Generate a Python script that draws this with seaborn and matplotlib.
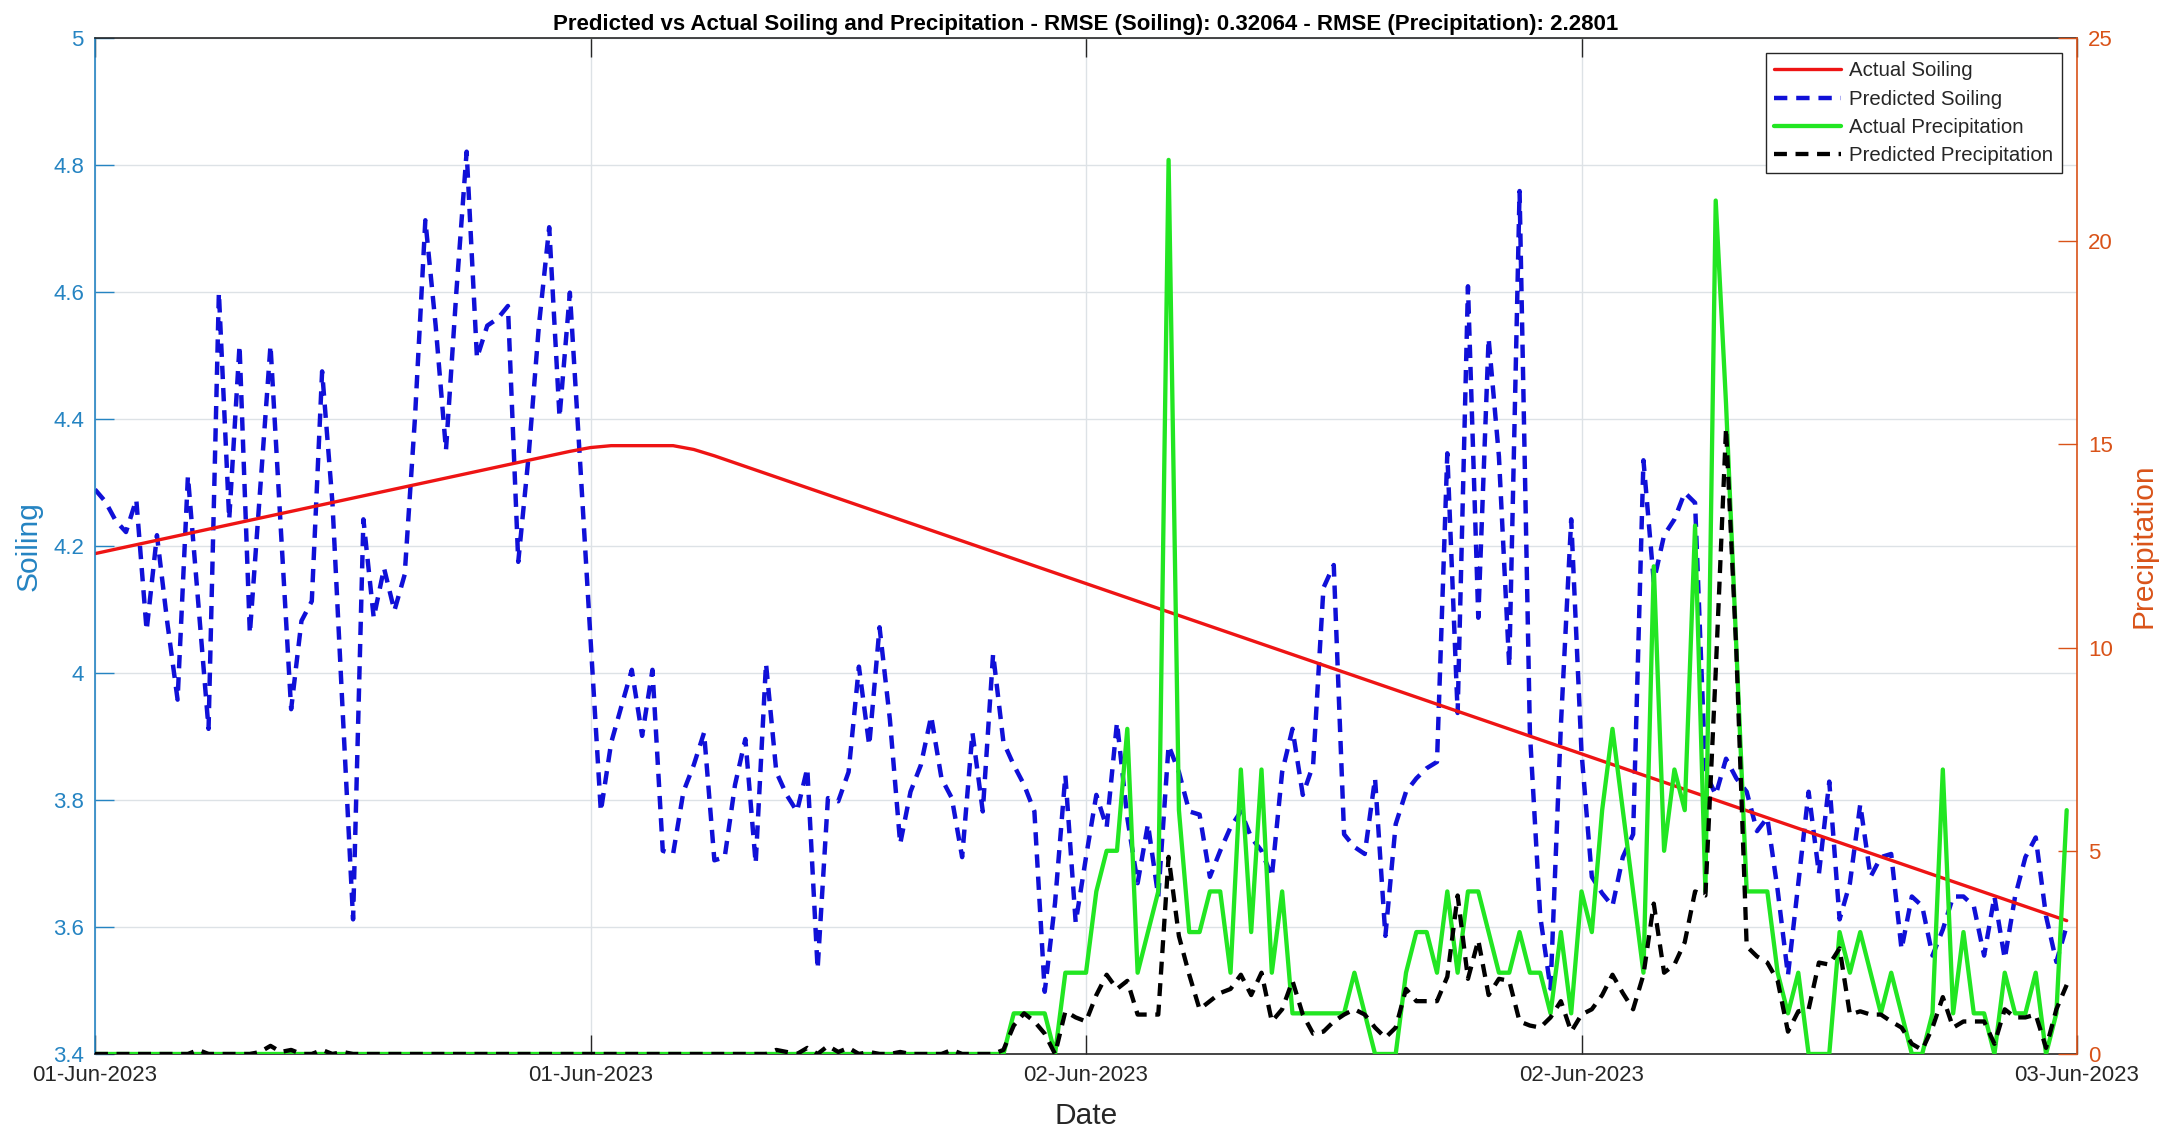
import numpy as np
import pandas as pd
import matplotlib
matplotlib.use("Agg")
import matplotlib.pyplot as plt
import matplotlib.dates as mdates
from matplotlib.ticker import FuncFormatter
import seaborn as sns

# ---- data: 15-minute samples from 01-Jun-2023 00:00 ----
start_time = "2023-06-01 00:00"
sample_step = "15min"

predicted_soiling = [
    4.289, 4.27, 4.24, 4.222, 4.273, 4.067, 4.217, 4.08, 3.958, 4.310,
    4.11, 3.912, 4.599, 4.242, 4.516, 4.062, 4.289, 4.516, 4.227, 3.943,
    4.082, 4.113, 4.475, 4.268, 3.937, 3.612, 4.242, 4.087, 4.165, 4.098,
    4.155, 4.403, 4.713, 4.547, 4.351, 4.599, 4.821, 4.496, 4.547, 4.558,
    4.578, 4.175, 4.341, 4.547, 4.702, 4.403, 4.599, 4.330, 4.054, 3.782,
    3.89, 3.948, 4.005, 3.901, 4.005, 3.720, 3.715, 3.813, 3.855, 3.906,
    3.705, 3.710, 3.824, 3.896, 3.700, 4.015, 3.844, 3.808, 3.782, 3.850,
    3.534, 3.803, 3.798, 3.844, 4.010, 3.886, 4.072, 3.927, 3.731, 3.813,
    3.855, 3.932, 3.834, 3.803, 3.710, 3.906, 3.782, 4.030, 3.891, 3.855,
    3.824, 3.782, 3.498, 3.638, 3.839, 3.607, 3.710, 3.808, 3.757, 3.922,
    3.772, 3.669, 3.762, 3.648, 3.886, 3.844, 3.782, 3.777, 3.679, 3.720,
    3.757, 3.782, 3.741, 3.720, 3.679, 3.844, 3.912, 3.808, 3.855, 4.134,
    4.170, 3.746, 3.726, 3.715, 3.834, 3.586, 3.762, 3.813, 3.834, 3.850,
    3.860, 4.346, 3.937, 4.609, 4.087, 4.527, 4.341, 4.010, 4.759, 3.906,
    3.617, 3.503, 3.917, 4.242, 3.875, 3.679, 3.653, 3.633, 3.710, 3.746,
    4.335, 4.144, 4.217, 4.242, 4.284, 4.268, 3.844, 3.808, 3.865, 3.834,
    3.813, 3.751, 3.772, 3.658, 3.524, 3.669, 3.813, 3.684, 3.829, 3.612,
    3.669, 3.793, 3.679, 3.710, 3.715, 3.565, 3.648, 3.633, 3.555, 3.596,
    3.648, 3.648, 3.633, 3.555, 3.648, 3.550, 3.648, 3.710, 3.741, 3.617,
    3.545, 3.602,
]

actual_precipitation = [0] * 89 + [
    1, 1, 1, 1, 0, 2, 2, 2, 4, 5, 5, 8, 2, 3, 4, 22, 6, 3, 3, 4,
    4, 2, 7, 3, 7, 2, 4, 1, 1, 1, 1, 1, 1, 2, 1, 0, 0, 0, 2, 3,
    3, 2, 4, 2, 4, 4, 3, 2, 2, 3, 2, 2, 1, 3, 1, 4, 3, 6, 8, 6,
    4, 2, 12, 5, 7, 6, 13, 4, 21, 16, 10, 4, 4, 4, 2, 1, 2, 0, 0, 0,
    3, 2, 3, 2, 1, 2, 1, 0, 0, 1, 7, 1, 3, 1, 1, 0, 2, 1, 1, 2,
    0, 1, 6,
]

predicted_precipitation = [
    0, 0, 0, 0, 0, 0, 0, 0, 0, 0, 0.1, 0, 0, 0, 0, 0, 0.05, 0.2, 0.05, 0.1,
    0, 0, 0.1, 0, 0.05, 0, 0, 0, 0, 0, 0, 0, 0, 0, 0, 0, 0, 0, 0, 0,
    0, 0, 0, 0, 0, 0, 0, 0, 0, 0, 0, 0, 0, 0, 0, 0, 0, 0, 0, 0,
    0, 0, 0, 0, 0, 0, 0.1, 0.05, 0, 0.15, 0, 0.2, 0.05, 0.15, 0, 0.05, 0, 0, 0.05, 0,
    0, 0, 0, 0.1, 0, 0, 0, 0, 0.1, 0.7, 1.0, 0.8, 0.5, 0.0, 1.05, 0.9, 0.8, 1.45, 1.95, 1.6,
    1.8, 0.97, 0.97, 0.97, 4.85, 2.9, 1.95, 1.1, 1.3, 1.5, 1.6, 1.95, 1.45, 2.0, 0.8, 1.1, 1.8, 0.97, 0.5, 0.55,
    0.8, 0.97, 1.1, 0.97, 0.65, 0.4, 0.65, 1.6, 1.3, 1.3, 1.3, 1.9, 3.9, 1.85, 2.8, 1.45, 1.85, 1.8, 0.8, 0.7,
    0.65, 0.9, 1.3, 0.55, 0.97, 1.1, 1.45, 1.95, 1.5, 1.1, 1.95, 3.7, 2.0, 2.2, 2.75, 4.0, 3.9, 9.4, 15.4, 9.9,
    2.65, 2.4, 2.25, 1.8, 0.55, 1.05, 1.1, 2.25, 2.2, 2.6, 0.97, 1.05, 0.97, 0.97, 0.8, 0.65, 0.25, 0.1, 0.65, 1.4,
    0.65, 0.8, 0.8, 0.8, 0.25, 1.1, 0.9, 0.9, 0.97, 0.15, 1.1, 1.7,
]

# measured soiling: break points of the piecewise trend (hours since start)
actual_soiling_hours = [0, 11.5, 12.0, 12.5, 14.0, 14.5, 15.0, 47.75]
actual_soiling = [4.188, 4.349, 4.355, 4.358, 4.358, 4.352, 4.342, 3.610]

left_ticks = [3.4, 3.6, 3.8, 4.0, 4.2, 4.4, 4.6, 4.8, 5.0]
right_ticks = [0, 5, 10, 15, 20, 25]

title_text = ("Predicted vs Actual Soiling and Precipitation - RMSE (Soiling): 0.32064"
              " - RMSE (Precipitation): 2.2801")

# ---- frames ----
times = pd.date_range(start_time, periods=len(predicted_soiling), freq=sample_step)
series = pd.DataFrame({
    "Date": times,
    "Predicted Soiling": predicted_soiling,
    "Actual Precipitation": actual_precipitation,
    "Predicted Precipitation": predicted_precipitation,
})
trend = pd.DataFrame({
    "Date": pd.Timestamp(start_time) + pd.to_timedelta(actual_soiling_hours, unit="h"),
    "Actual Soiling": actual_soiling,
})

# ---- style ----
sns.set_theme(style="white")
plt.rcParams["font.family"] = ["Liberation Sans", "DejaVu Sans"]

LEFT_C = "#2584c2"
RIGHT_C = "#d95319"
TEXT_C = "#262626"
RED = "#ee1414"
BLUE = "#1010d8"
GREEN = "#22e622"
DASH = (0, (3.0, 2.0))

fig = plt.figure(figsize=(21.83, 11.31), dpi=100)
fig.patch.set_facecolor("white")
ax = fig.add_axes([0.04352, 0.06809, 0.90793, 0.89832])
ax2 = ax.twinx()

# left axis: soiling
sns.lineplot(data=series, x="Date", y="Predicted Soiling", ax=ax, color=BLUE,
             linewidth=3.2, linestyle=DASH, legend=False)
h_pred_soil = ax.lines[-1]
sns.lineplot(data=trend, x="Date", y="Actual Soiling", ax=ax, color=RED,
             linewidth=2.4, legend=False)
h_act_soil = ax.lines[-1]

# right axis: precipitation
sns.lineplot(data=series, x="Date", y="Actual Precipitation", ax=ax2, color=GREEN,
             linewidth=3.1, legend=False)
h_act_prec = ax2.lines[-1]
sns.lineplot(data=series, x="Date", y="Predicted Precipitation", ax=ax2, color="black",
             linewidth=3.1, linestyle=DASH, legend=False)
h_pred_prec = ax2.lines[-1]

# axes limits and ticks
ax.set_xlim(pd.Timestamp("2023-06-01 00:00"), pd.Timestamp("2023-06-03 00:00"))
ax.set_ylim(3.4, 5.0)
ax2.set_ylim(0, 25)
ax.set_yticks(left_ticks)
ax2.set_yticks(right_ticks)
ax.yaxis.set_major_formatter(FuncFormatter(lambda v, p: f"{v:g}"))
ax2.yaxis.set_major_formatter(FuncFormatter(lambda v, p: f"{v:g}"))
ax.xaxis.set_major_locator(mdates.HourLocator(byhour=[0, 12]))
ax.xaxis.set_major_formatter(mdates.DateFormatter("%d-%b-%Y"))

ax.grid(True, color="#dde2e6", linewidth=1.0)
ax.set_axisbelow(True)

ax.tick_params(axis="x", direction="in", length=14, width=1.0, colors=TEXT_C,
               labelsize=16, pad=8, top=True, bottom=True)
ax.tick_params(axis="y", direction="in", length=14, width=1.0, colors=LEFT_C,
               labelsize=16, pad=8, left=True, right=False)
ax2.tick_params(axis="y", direction="in", length=14, width=1.0, colors=RIGHT_C,
                labelsize=16, pad=8, right=True, left=False)

for side in ("top", "bottom"):
    ax.spines[side].set_color(TEXT_C)
    ax.spines[side].set_linewidth(1.2)
    ax2.spines[side].set_visible(False)
ax.spines["left"].set_color(LEFT_C)
ax.spines["left"].set_linewidth(1.2)
ax.spines["right"].set_visible(False)
ax2.spines["left"].set_visible(False)
ax2.spines["right"].set_color(RIGHT_C)
ax2.spines["right"].set_linewidth(1.2)

# labels and title
ax.set_xlabel("Date", fontsize=21.5, color=TEXT_C)
ax.xaxis.set_label_coords(0.5, -0.047)
ax.set_ylabel("Soiling", fontsize=21.5, color=LEFT_C)
ax.yaxis.set_label_coords(-0.0262, 0.5)
ax2.set_ylabel("Precipitation", fontsize=21.5, color=RIGHT_C)
ax2.yaxis.set_label_coords(1.0265, 0.5)
ax.set_title(title_text, fontsize=16, fontweight="bold", color="black", pad=6)

# legend
leg = ax2.legend([h_act_soil, h_pred_soil, h_act_prec, h_pred_prec],
                 ["Actual Soiling", "Predicted Soiling", "Actual Precipitation",
                  "Predicted Precipitation"],
                 loc="upper right", fontsize=14.7, frameon=True, fancybox=False,
                 edgecolor=TEXT_C, facecolor="white", framealpha=1.0,
                 handlelength=3.3, handletextpad=0.4, labelspacing=0.45,
                 borderaxespad=0.75, borderpad=0.4)
leg.get_frame().set_linewidth(1.0)

fig.savefig("out.png", dpi=100, facecolor="white")
